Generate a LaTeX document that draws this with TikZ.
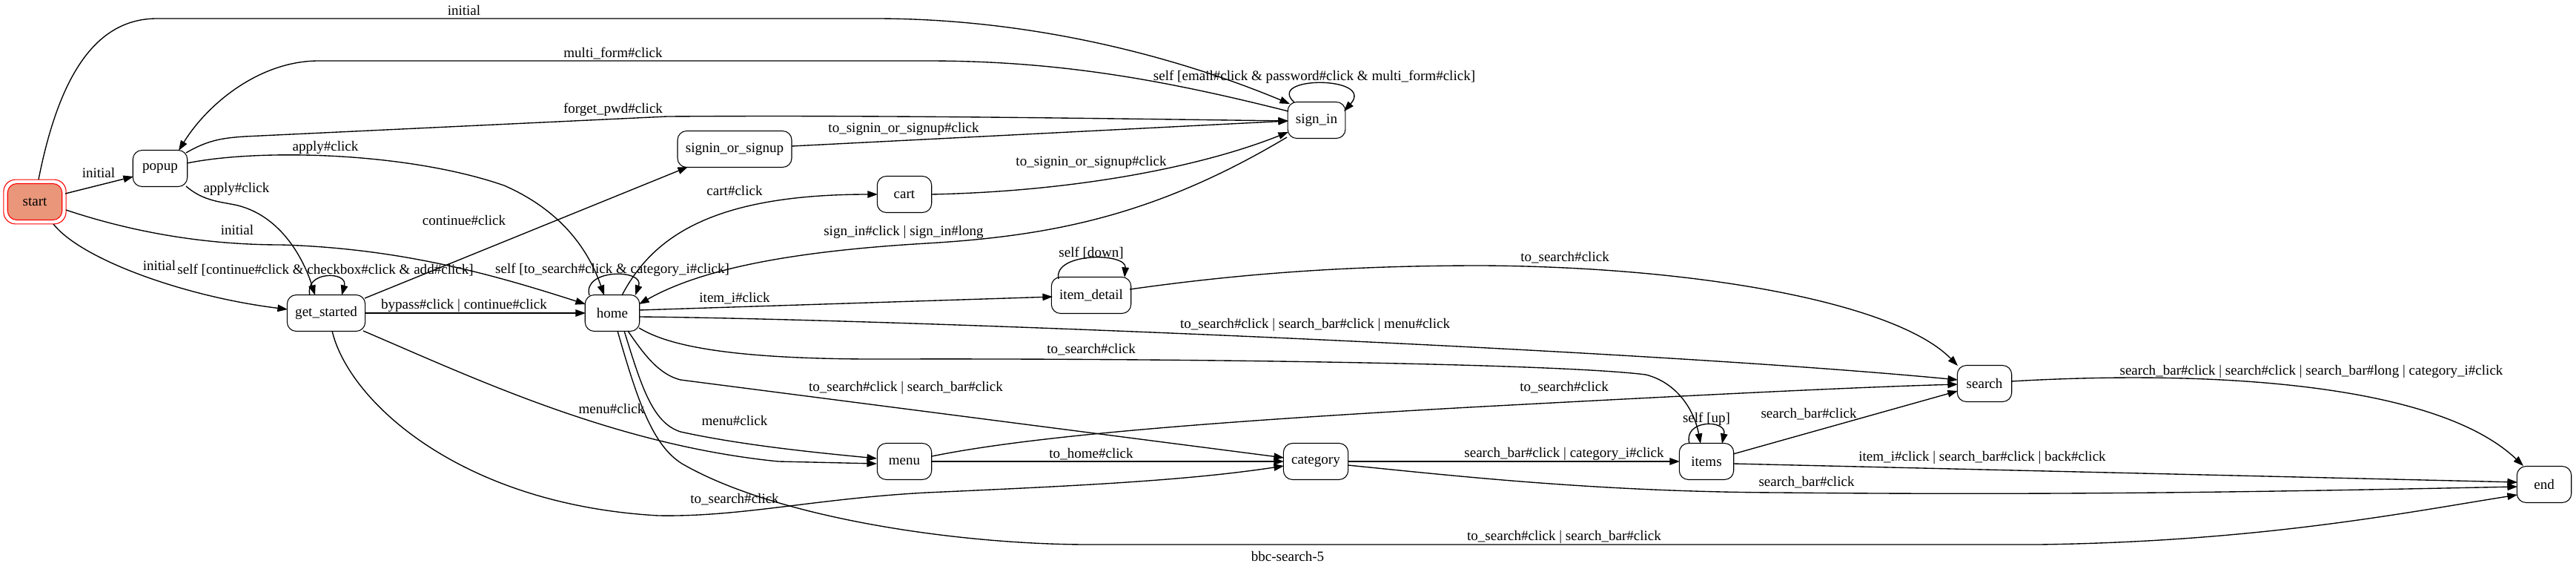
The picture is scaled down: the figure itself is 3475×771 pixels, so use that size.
\documentclass[tikz,border=0pt]{standalone}
\usepackage{fontspec}
\setmainfont{Liberation Serif}
\usetikzlibrary{arrows.meta,calc}
\definecolor{salmonc}{RGB}{233,150,122}
\begin{document}
\begin{tikzpicture}[x=0.73529pt,y=-0.73529pt,
  state/.style={draw, line width=0.8pt, rounded corners=9pt, minimum width=54pt, minimum height=36pt,
    inner xsep=8pt, inner ysep=4pt, font=\fontsize{14pt}{16pt}\selectfont},
  startout/.style={draw=red, line width=0.8pt, rounded corners=12pt, minimum width=62pt, minimum height=44pt},
  startin/.style={state, draw=red, fill=salmonc},
  trans/.style={draw, line width=1pt, -{Triangle[length=10pt,width=7pt]}},
  lbl/.style={inner sep=0pt, font=\fontsize{14pt}{16pt}\selectfont}]
\useasboundingbox (0,0) rectangle (3475,771);

% nodes
\node[startout] (start) at (47,272) {};
\node[startin] (startin) at (47,272) {start};
\node[state] (popup) at (216,227) {popup};
\node[state] (gs) at (440,422) {get\_started};
\node[state] (home) at (826,422) {home};
\node[state] (sos) at (991,201) {signin\_or\_signup};
\node[state] (cart) at (1220,262) {cart};
\node[state] (signin) at (1776,162) {sign\_in};
\node[state] (itemd) at (1472,398) {item\_detail};
\node[state] (menu) at (1220,622) {menu};
\node[state] (cat) at (1775,622) {category};
\node[state] (items) at (2302,622) {items};
\node[state] (search) at (2677,517) {search};
\node[state] (end) at (3432,653) {end};

% edges
\draw[trans] ($(start)+(5,-30)$) .. controls (80,100) and (130,25) .. (212,25) -- (1180,25)
  .. controls (1420,25) and (1620,90) .. ($(signin)+(-36,-22)$);
\draw[trans] ($(signin)+(-38,-12)$) .. controls (1560,105) and (1420,82) .. (1250,82) -- (430,82)
  .. controls (350,82) and (280,140) .. ($(popup)+(25,-24)$);
\draw[trans] ($(popup)+(35,-21)$) .. controls (280,189) and (300,186) .. (330,184) -- (900,157)
  .. controls (1200,155) and (1500,160) .. ($(signin)+(-38,1)$);
\draw[trans] ($(popup)+(36,-7)$) .. controls (350,200) and (550,205) .. (680,250)
  .. controls (760,285) and (795,340) .. ($(home)+(-11,-24)$);
\draw[trans] ($(popup)+(35,24)$) .. controls (275,272) and (300,272) .. (321,277)
  .. controls (380,292) and (410,350) .. ($(gs)+(-15,-24)$);
\draw[trans] ($(start)+(41,-11)$) -- ($(popup)+(-36,11)$);
\draw[trans] ($(start)+(42,11)$) .. controls (200,320) and (300,330) .. (379,330)
  .. controls (550,335) and (680,375) .. ($(home)+(-36,-12)$);
\draw[trans] ($(start)+(25,30)$) .. controls (110,350) and (250,400) .. ($(gs)+(-52,-5)$);
\draw[trans] ($(gs)+(-22,-24)$) .. controls (410,365) and (470,365) .. ($(gs)+(21,-24)$);
\draw[trans] ($(home)+(-31,-24)$) .. controls (785,362) and (870,362) .. ($(home)+(31,-24)$);
\draw[trans] ($(gs)+(52,0)$) -- ($(home)+(-36,0)$);
\draw[trans] ($(gs)+(52,-20)$) -- ($(sos)+(-63,24)$);
\draw[trans] ($(sos)+(77,-4)$) -- ($(signin)+(-38,1)$);
\draw[trans] ($(cart)+(36,0)$) .. controls (1450,258) and (1620,225) .. ($(signin)+(-38,16)$);
\draw[trans] ($(home)+(13,-24)$) .. controls (880,320) and (960,262) .. ($(cart)+(-36,0)$);
\draw[trans] ($(signin)+(-40,23)$) .. controls (1560,290) and (1420,318) .. (1250,328)
  .. controls (1080,338) and (950,360) .. ($(home)+(36,-12)$);
\draw[trans] ($(itemd)+(-44,-22)$) .. controls (1420,340) and (1520,340) .. ($(itemd)+(45,-24)$);
\draw[trans] ($(home)+(36,-4)$) -- ($(itemd)+(-52,2)$);
\draw[trans] ($(itemd)+(52,-8)$) .. controls (1700,365) and (1850,358) .. (2000,358)
  .. controls (2300,360) and (2560,410) .. ($(search)+(-36,-24)$);
\draw[trans] ($(home)+(36,5)$) .. controls (1200,430) and (2200,470) .. ($(search)+(-36,-5)$);
\draw[trans] ($(home)+(36,20)$) .. controls (900,465) and (980,485) .. (1200,484)
  .. controls (1600,483) and (2100,490) .. (2220,505)
  .. controls (2260,515) and (2285,550) .. ($(items)+(-8,-24)$);
\draw[trans] ($(home)+(21,24)$) .. controls (870,480) and (890,505) .. (918,512) -- ($(cat)+(-43,-5)$);
\draw[trans] ($(home)+(16,24)$) .. controls (865,520) and (880,570) .. (918,582)
  .. controls (1000,600) and (1100,610) .. ($(menu)+(-37,-4)$);
\draw[trans] ($(home)+(7,24)$) .. controls (860,540) and (880,600) .. (920,625)
  .. controls (1050,700) and (1300,734) .. (1468,734) -- (2750,734)
  .. controls (3050,730) and (3250,690) .. ($(end)+(-36,14)$);
\draw[trans] ($(gs)+(50,24)$) .. controls (640,510) and (830,600) .. (1050,622) -- ($(menu)+(-37,3)$);
\draw[trans] ($(gs)+(8,24)$) .. controls (470,540) and (620,680) .. (888,695)
  .. controls (1000,697) and (1100,672) .. (1250,664)
  .. controls (1450,655) and (1600,648) .. ($(cat)+(-43,6)$);
\draw[trans] ($(menu)+(37,0)$) -- ($(cat)+(-43,0)$);
\draw[trans] ($(menu)+(37,-7)$) .. controls (1380,590) and (1600,570) .. (2000,548)
  .. controls (2300,532) and (2500,522) .. ($(search)+(-36,1)$);
\draw[trans] ($(cat)+(43,0)$) -- ($(items)+(-36,0)$);
\draw[trans] ($(cat)+(43,5)$) .. controls (1950,640) and (2150,663) .. (2400,664)
  .. controls (2800,668) and (3100,662) .. ($(end)+(-36,3)$);
\draw[trans] ($(items)+(-23,-24)$) .. controls (2270,565) and (2330,565) .. ($(items)+(21,-24)$);
\draw[trans] ($(items)+(36,-10)$) -- ($(search)+(-36,10)$);
\draw[trans] ($(items)+(36,3)$) -- ($(end)+(-36,-3)$);
\draw[trans] ($(search)+(36,-3)$) .. controls (2950,500) and (3280,510) .. ($(end)+(-28,-25)$);
\draw[trans] ($(signin)+(-30,-24)$) .. controls (1706,102) and (1856,102) .. ($(signin)+(37,-12)$);

% labels
\node[lbl] (l1) at (626,14) {initial};
\node[lbl] (l2) at (827,72) {multi\_form\#click};
\node[lbl] (l3) at (827,148) {forget\_pwd\#click};
\node[lbl] (l4) at (439,199) {apply\#click};
\node[lbl] (l5) at (319,255) {apply\#click};
\node[lbl] (l6) at (133,233) {initial};
\node[lbl] (l7) at (320,310) {initial};
\node[lbl] (l8) at (215,358) {initial};
\node[lbl] (l9) at (439,364) {self [continue\#click \& checkbox\#click \& add\#click]};
\node[lbl] (l10) at (826,364) {self [to\_search\#click \& category\_i\#click]};
\node[lbl] (l11) at (626,412) {bypass\#click | continue\#click};
\node[lbl] (l12) at (626,297) {continue\#click};
\node[lbl] (l13) at (1219,174) {to\_signin\_or\_signup\#click};
\node[lbl] (l14) at (1472,219) {to\_signin\_or\_signup\#click};
\node[lbl] (l15) at (991,257) {cart\#click};
\node[lbl] (l16) at (1219,313) {sign\_in\#click | sign\_in\#long};
\node[lbl] (l17) at (1472,341) {self [down]};
\node[lbl] (l18) at (991,402) {item\_i\#click};
\node[lbl] (l19) at (1773,104) {self [email\#click \& password\#click \& multi\_form\#click]};
\node[lbl] (l20) at (2111,347) {to\_search\#click};
\node[lbl] (l21) at (1774,438) {to\_search\#click | search\_bar\#click | menu\#click};
\node[lbl] (l22) at (1472,471) {to\_search\#click};
\node[lbl] (l23) at (1222,523) {to\_search\#click | search\_bar\#click};
\node[lbl] (l24) at (2110,522) {to\_search\#click};
\node[lbl] (l25) at (2302,565) {self [up]};
\node[lbl] (l26) at (2440,558) {search\_bar\#click};
\node[lbl] (l27) at (3118,501) {search\_bar\#click | search\#click | search\_bar\#long | category\_i\#click};
\node[lbl] (l28) at (825,551) {menu\#click};
\node[lbl] (l29) at (991,567) {menu\#click};
\node[lbl] (l30) at (1472,612) {to\_home\#click};
\node[lbl] (l31) at (2110,612) {search\_bar\#click | category\_i\#click};
\node[lbl] (l32) at (2674,617) {item\_i\#click | search\_bar\#click | back\#click};
\node[lbl] (l33) at (2437,650) {search\_bar\#click};
\node[lbl] (l34) at (991,673) {to\_search\#click};
\node[lbl] (l35) at (2110,724) {to\_search\#click | search\_bar\#click};
\node[lbl] (cap) at (1737,750) {bbc-search-5};
\end{tikzpicture}
\end{document}
